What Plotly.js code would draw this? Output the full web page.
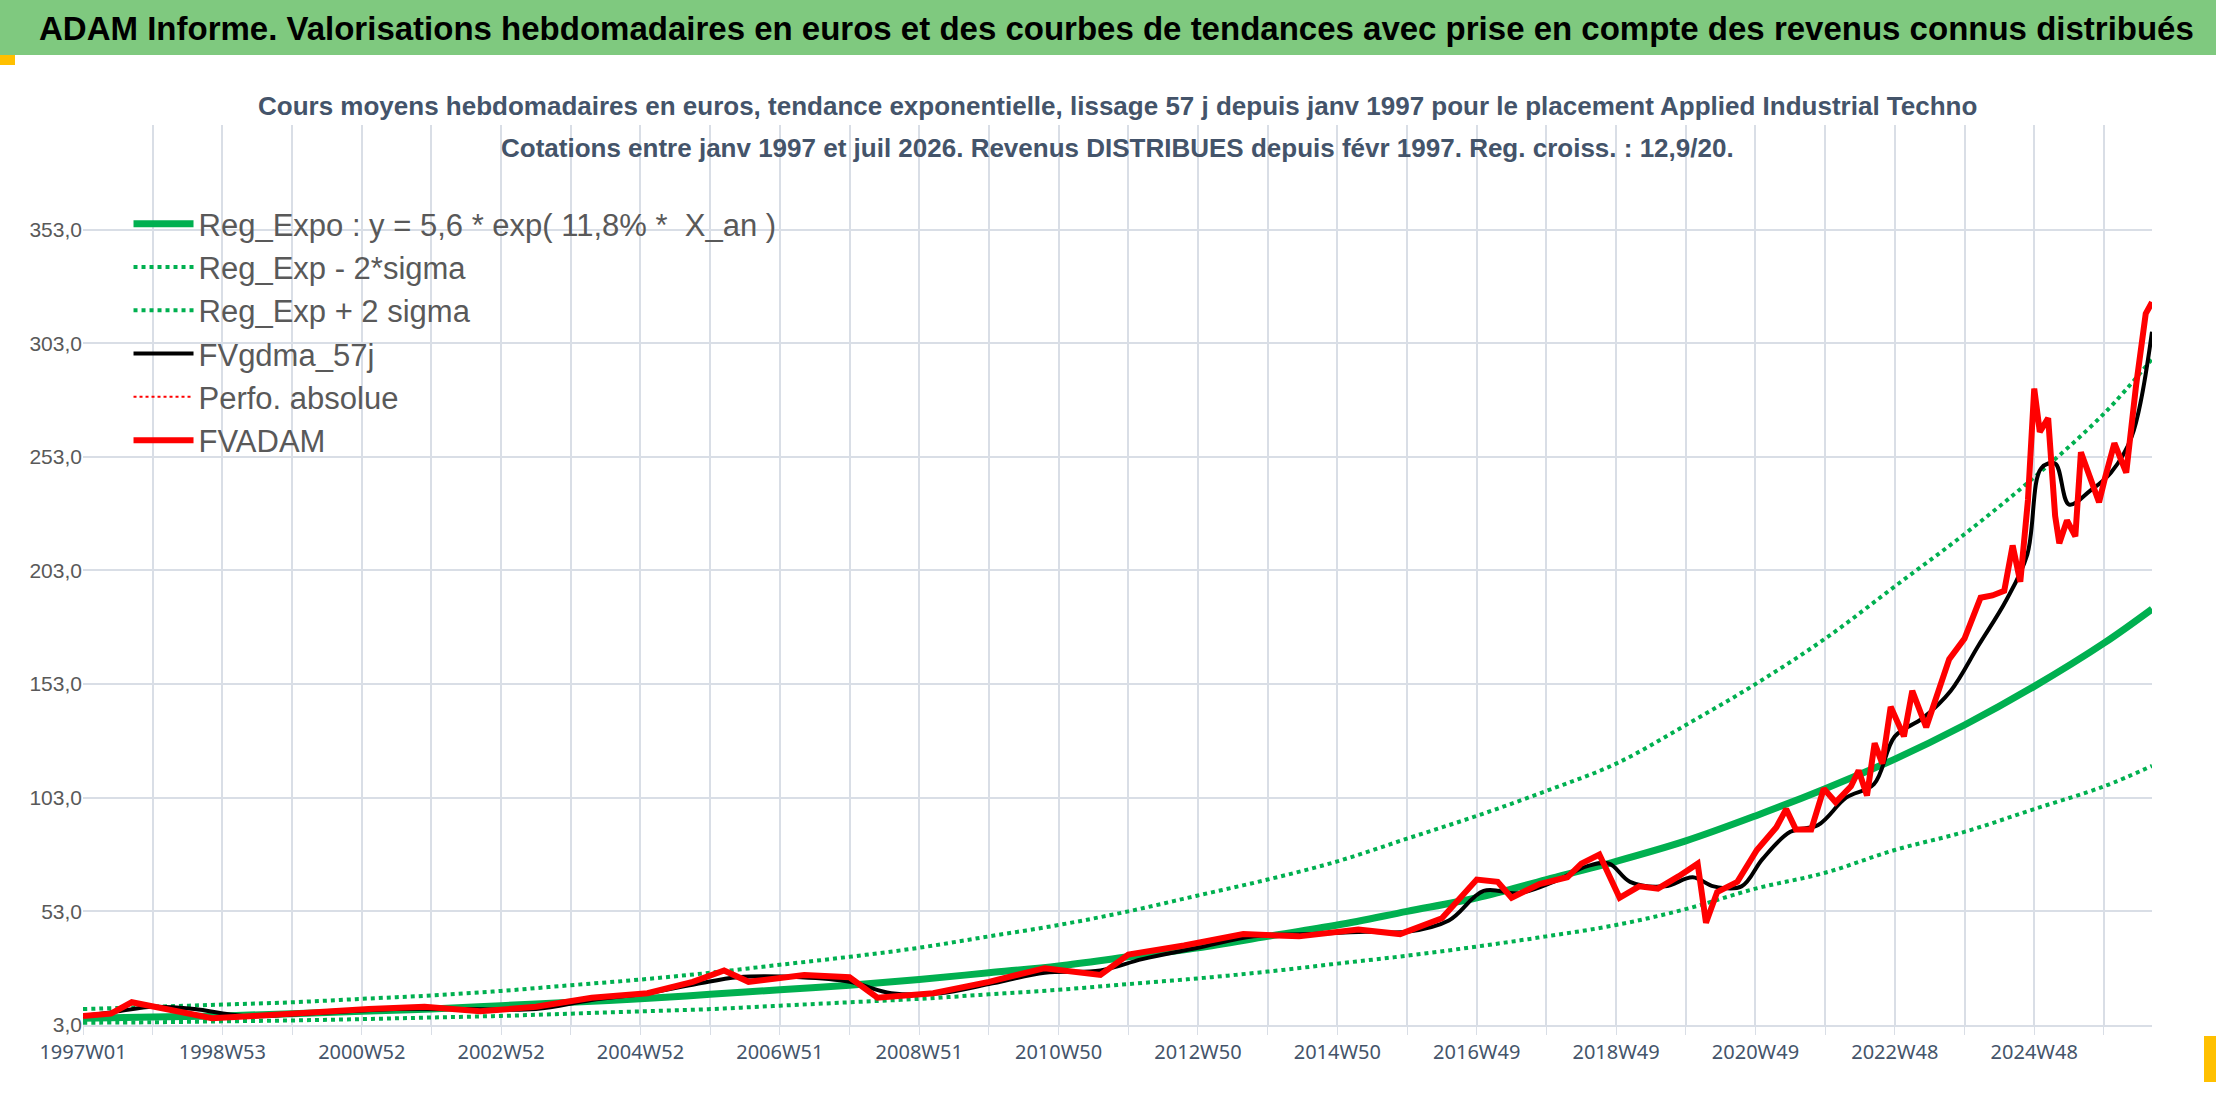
<!DOCTYPE html>
<html>
<head>
<meta charset="utf-8">
<script src="https://cdn.plot.ly/plotly-3.0.1.min.js"></script>
<style>body{margin:0;background:#fff}#chart{width:2216px;height:1106px}</style>
</head>
<body>
<div id="chart"></div>
<script>
// FVADAM weekly valuation (year fraction -> euros)
let advYears = [1997.0,1997.4,1997.7,1998.0,1998.4,1998.85,1999.45,2000.5,2001.1,2001.9,2002.7,2003.5,2004.3,2005.1,2005.75,2006.2,2006.55,2007.35,2008.0,2008.4,2009.2,2010.0,2010.8,2011.6,2012.0,2012.8,2013.65,2014.45,2015.3,2015.9,2016.5,2017.0,2017.3,2017.5,2017.9,2018.3,2018.5,2018.76,
  2019.05,2019.33,2019.6,2019.9,2020.17,2020.29,2020.45,2020.74,2021.02,2021.3,2021.44,2021.58,2021.8,2021.98,2022.15,2022.37,2022.48,2022.6,2022.71,2022.82,2022.94,2023.13,2023.25,2023.45,2023.61,2023.78,2024.0,2024.23,2024.4,2024.57,2024.69,2024.8,2024.91,2025.0,2025.08,2025.2,2025.3,2025.36,2025.47,2025.59,2025.67,2025.8,2025.93,2026.01,2026.15,2026.32,2026.46,2026.6,2026.69];
let advValues = [7,8,13,11,9,6,7,9,10,11,9,11,15,17,22,27,22,25,24,15,17,22,28,25,34,38,43,42,45,43,50,67,66,59,65,68,74,78,
  59,64,63,68.5,74,48,61.5,66,80,90,98,89,89,107,101,108,115,104,127,118,143,130,150,134,148,164,173,191,192,194,214,198,234,283,264,270,227,215,225,218,255,243,233,243,259,246,284,316,321];

// FVgdma_57j smoothed line
let smoYears = [1997.0,1997.5,1998.0,1998.6,1999.3,2000.5,2001.5,2002.5,2003.5,2004.3,2005.1,2005.8,2006.4,2007.3,2008.0,2008.6,2009.3,2010.0,2010.8,2011.6,2012.2,2013.0,2013.8,2014.6,2015.4,2016.0,2016.6,2017.1,2017.6,2018.1,2018.6,2018.9,2019.2,2019.7,2020.1,2020.4,2020.8,2021.1,2021.5,2021.9,2022.3,2022.7,2023.0,2023.4,2023.8,2024.2,2024.6,2024.9,2025.1,2025.3,2025.5,2025.8,2026.1,2026.4,2026.69];
let smoValues = [7,9,11,10,7,8.5,10,10,10,14,17,21,24,24,22,17,17,21,26,27,32,37,42,43,44,44,49,62,61,66,73,74,66,64,68,64,64,76,88,91,103,109,130,138,150,170,190,210,248,250,232,238,246,262,308];

// Regression curves, read at yearly positions
let regYears = [1997,1998,1999,2000,2001,2002,2003,2004,2005,2006,2007,2008,2009,2010,2011,2012,2013,2014,2015,2016,2017,2018,2019,2020,2021,2022,2023,2024,2025,2026,2026.69];
let regExpo = [6,6.5,7,8,9,10,11.5,13,14.5,16.5,18.5,20.5,23,26,29,33,37,42,47,53,59,67,75,84,95,107,120,135,152,171,186];
let regLow = [4,4.2,4.6,5,5.6,6.3,7,8,9,10,11.5,13,14.5,16.5,18.5,21,23.5,26.5,30,33.5,37.5,42,47,54,63,70,80,88,98,108,117];
let regHigh = [10,11,12,13,14.5,16,18,20.5,23,26,29.5,33,37,42,47,53,60,67,75,85,95,106,118,135,153,173,196,219,244,272,296];

let tickYears = [1997,1998,1999,2000,2001,2002,2003,2004,2005,2006,2007,2008,2009,2010,2011,2012,2013,2014,2015,2016,2017,2018,2019,2020,2021,2022,2023,2024,2025,2026];
let tickLabels = ['1997W01','','1998W53','','2000W52','','2002W52','','2004W52','','2006W51','','2008W51','','2010W50','','2012W50','','2014W50','','2016W49','','2018W49','','2020W49','','2022W48','','2024W48',''];

let narrow = '"Liberation Sans", Arial, sans-serif';
let green = '#00B050';

let traces = [
  {x: regYears, y: regExpo, name: 'Reg_Expo : y = 5,6 * exp( 11,8% *  X_an )', mode: 'lines', line: {color: green, width: 7, shape: 'spline'}},
  {x: regYears, y: regLow, name: 'Reg_Exp - 2*sigma', mode: 'lines', line: {color: green, width: 4, dash: 'dot', shape: 'spline'}},
  {x: regYears, y: regHigh, name: 'Reg_Exp + 2 sigma', mode: 'lines', line: {color: green, width: 4, dash: 'dot', shape: 'spline'}},
  {x: smoYears, y: smoValues, name: 'FVgdma_57j', mode: 'lines', line: {color: '#000000', width: 4, shape: 'spline'}},
  {x: advYears, y: advValues, name: 'Perfo. absolue', mode: 'lines', line: {color: '#FF0000', width: 2, dash: 'dot'}},
  {x: advYears, y: advValues, name: 'FVADAM', mode: 'lines', line: {color: '#FF0000', width: 6}}
];

let layout = {
  width: 2216, height: 1106,
  paper_bgcolor: '#ffffff', plot_bgcolor: '#ffffff',
  margin: {l: 83, r: 64, t: 125, b: 81},
  separators: ', ',
  showlegend: true,
  legend: {x: 0.022, y: 0.92, xanchor: 'left', yanchor: 'top', bgcolor: 'rgba(0,0,0,0)',
    font: {family: narrow, size: 31, color: '#595959'}, tracegroupgap: 0, itemwidth: 60},
  xaxis: {range: [1997, 2026.69], tickvals: tickYears, ticktext: tickLabels, showgrid: true,
    gridcolor: '#D9DEE6', gridwidth: 2, zeroline: false, ticks: 'outside', ticklen: 8, tickcolor: '#D9DEE6',
    showline: true, linecolor: '#D9DEE6', linewidth: 2, tickfont: {size: 20, color: '#44546A', family: 'Noto Sans, sans-serif'}},
  yaxis: {range: [3, 399], tick0: 3, dtick: 50, tickformat: '.1f', showgrid: true,
    gridcolor: '#D9DEE6', gridwidth: 2, zeroline: false, ticks: '',
    tickfont: {size: 21, color: '#595959', family: narrow}},
  shapes: [
    {type: 'rect', xref: 'paper', yref: 'paper', x0: -83/2069, x1: (2216-83)/2069, y0: (1106-81-55)/900, y1: (1106-81)/900,
      fillcolor: '#7FC97F', line: {width: 0}, layer: 'below'},
    {type: 'rect', xref: 'paper', yref: 'paper', x0: -83/2069, x1: -68/2069, y0: (1106-81-65)/900, y1: (1106-81-55)/900,
      fillcolor: '#FFC000', line: {width: 0}},
    {type: 'rect', xref: 'paper', yref: 'paper', x0: (2216-83-12)/2069, x1: (2216-83)/2069, y0: -(81-24)/900, y1: -(81-70)/900,
      fillcolor: '#FFC000', line: {width: 0}}
  ],
  annotations: [
    {text: '<b>ADAM Informe. Valorisations hebdomadaires en euros et des courbes de tendances avec prise en compte des revenus connus distribués</b>',
      xref: 'paper', yref: 'paper', x: -0.022, y: (1106-81-29)/900, xanchor: 'left', yanchor: 'middle', showarrow: false,
      font: {family: narrow, size: 33, color: '#000000'}},
    {text: '<b>Cours moyens hebdomadaires en euros, tendance exponentielle, lissage 57 j depuis janv 1997 pour le placement Applied Industrial Techno</b>',
      xref: 'paper', yref: 'paper', x: 0.5, y: (1106-81-106)/900, xanchor: 'center', yanchor: 'middle', showarrow: false,
      font: {family: narrow, size: 26, color: '#44546A'}},
    {text: '<b>Cotations entre janv 1997 et juil 2026. Revenus DISTRIBUES depuis févr 1997. Reg. croiss. : 12,9/20.</b>',
      xref: 'paper', yref: 'paper', x: 0.5, y: (1106-81-148)/900, xanchor: 'center', yanchor: 'middle', showarrow: false,
      font: {family: narrow, size: 26, color: '#44546A'}}
  ]
};

Plotly.newPlot(document.getElementById('chart'), traces, layout, {displayModeBar: false, staticPlot: true});
</script>
</body>
</html>
